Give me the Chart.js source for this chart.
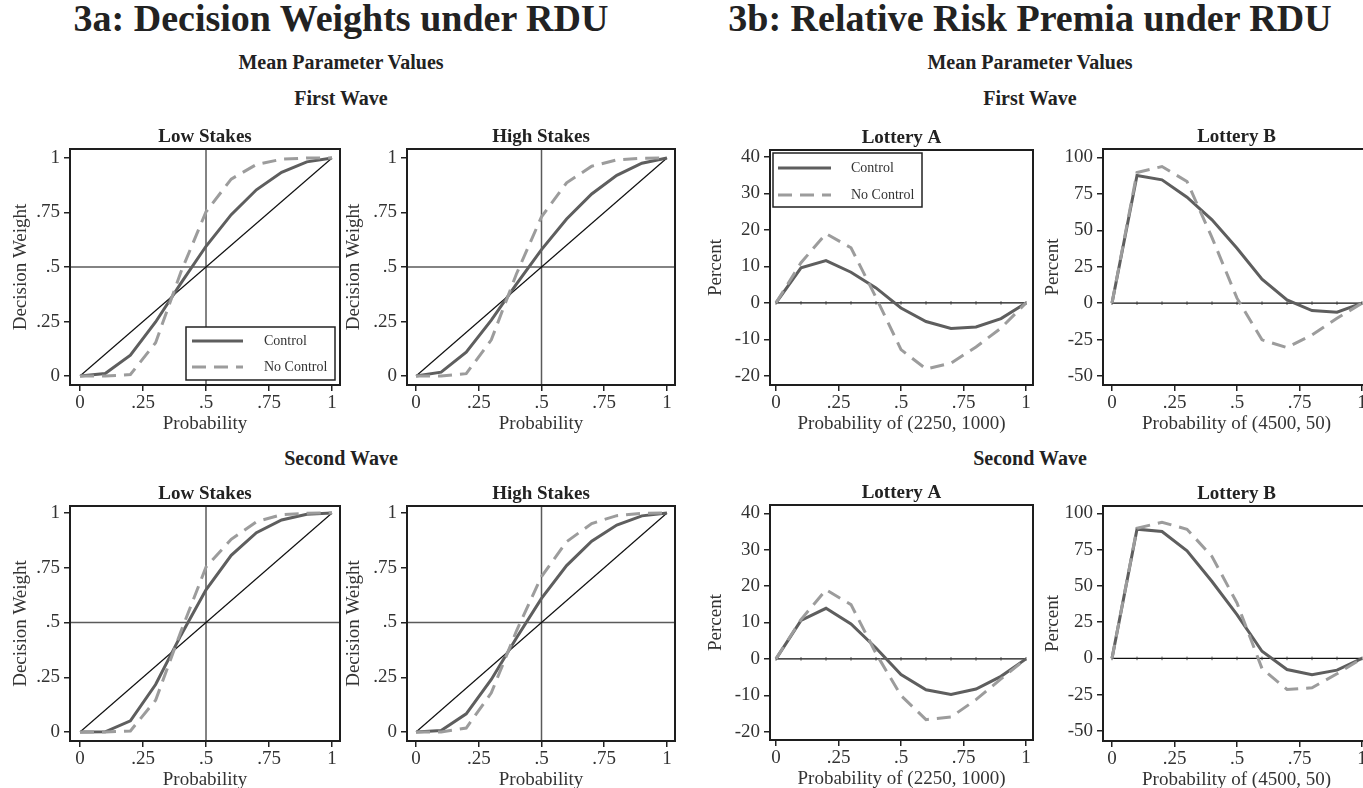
<!DOCTYPE html>
<html><head><meta charset="utf-8">
<script src="https://cdn.jsdelivr.net/npm/chart.js@4.4.1/dist/chart.umd.min.js"></script>
<style>
html,body{margin:0;padding:0;background:#fff;overflow:hidden;width:1363px;height:788px;position:relative}
.h{position:absolute;font-family:"Liberation Serif",serif;font-weight:bold;color:#222;white-space:nowrap;transform:translateX(-50%)}
canvas{position:absolute}
</style></head><body>
<div class="h" style="left:341px;top:-1px;font-size:38px;line-height:38px">3a: Decision Weights under RDU</div>
<div class="h" style="left:1030px;top:-1px;font-size:38px;line-height:38px">3b: Relative Risk Premia under RDU</div>
<div class="h" style="left:341px;top:52px;font-size:20px;line-height:20px">Mean Parameter Values</div>
<div class="h" style="left:1030px;top:52px;font-size:20px;line-height:20px">Mean Parameter Values</div>
<div class="h" style="left:341px;top:88px;font-size:20px;line-height:20px">First Wave</div>
<div class="h" style="left:1030px;top:88px;font-size:20px;line-height:20px">First Wave</div>
<div class="h" style="left:341px;top:448px;font-size:20px;line-height:20px">Second Wave</div>
<div class="h" style="left:1030px;top:448px;font-size:20px;line-height:20px">Second Wave</div>
<script>
// ---------- data ----------
const probability = [0, 0.1, 0.2, 0.3, 0.4, 0.5, 0.6, 0.7, 0.8, 0.9, 1];
const diagonalX = [0, 1];
const diagonalY = [0, 1];
const zeroLine = [0, 0, 0, 0, 0, 0, 0, 0, 0, 0, 0];
const probTicks = [0, 0.25, 0.5, 0.75, 1];
const weightTicks = [0, 0.25, 0.5, 0.75, 1];
const lotteryATicks = [-20, -10, 0, 10, 20, 30, 40];
const lotteryBTicks = [-50, -25, 0, 25, 50, 75, 100];
const weightRefLines = [0.5];
const seriesLabels = ['Control', 'No Control'];

// First wave, decision weights
const w1LowControl    = [0, 0.012, 0.096, 0.248, 0.425, 0.595, 0.740, 0.854, 0.934, 0.982, 1];
const w1LowNoControl  = [0, 0.000, 0.007, 0.153, 0.476, 0.753, 0.903, 0.970, 0.994, 1.000, 1];
const w1HighControl   = [0, 0.018, 0.110, 0.256, 0.421, 0.580, 0.720, 0.835, 0.920, 0.976, 1];
const w1HighNoControl = [0, 0.000, 0.011, 0.166, 0.468, 0.730, 0.886, 0.962, 0.991, 0.999, 1];
// Second wave, decision weights
const w2LowControl    = [0, 0.001, 0.051, 0.217, 0.441, 0.649, 0.807, 0.910, 0.968, 0.994, 1];
const w2LowNoControl  = [0, 0.000, 0.005, 0.145, 0.458, 0.753, 0.880, 0.960, 0.992, 0.999, 1];
const w2HighControl   = [0, 0.007, 0.083, 0.240, 0.429, 0.610, 0.760, 0.871, 0.945, 0.987, 1];
const w2HighNoControl = [0, 0.000, 0.018, 0.179, 0.461, 0.710, 0.869, 0.952, 0.988, 0.999, 1];
// First wave, relative risk premia (percent)
const w1LotteryAControl   = [0, 9.6, 11.6, 8.4, 4.1, -1.4, -5.1, -7.0, -6.6, -4.3, 0];
const w1LotteryANoControl = [0, 11.0, 19.0, 15.1, 1.5, -12.8, -18.1, -16.5, -12.1, -6.9, 0];
const w1LotteryBControl   = [0, 87.6, 84.6, 72.7, 57.2, 37.7, 16.4, 2.2, -5.1, -6.2, 0];
const w1LotteryBNoControl = [0, 89.7, 93.8, 83.5, 45.0, 3.4, -25.2, -30.5, -21.8, -10.4, 0];
// Second wave, relative risk premia (percent)
const w2LotteryAControl   = [0, 10.6, 13.9, 9.6, 3.0, -4.3, -8.5, -9.8, -8.3, -4.8, 0];
const w2LotteryANoControl = [0, 10.8, 19.0, 14.9, 1.5, -10.1, -16.7, -16.0, -11.2, -5.5, 0];
const w2LotteryBControl   = [0, 89.0, 87.4, 74.1, 53.0, 30.1, 4.9, -7.7, -11.3, -8.1, 0];
const w2LotteryBNoControl = [0, 89.7, 93.8, 89.0, 70.2, 38.2, -7.0, -21.4, -20.2, -10.6, 0];

// ---------- styling / layout ----------
const FONT = '"Liberation Serif", "DejaVu Serif", serif';
const CONTROL_COLOR = '#5e5e5e';
const NOCONTROL_COLOR = '#9c9c9c';
const YW = 66, XH = 50, TH = 26, PR = 6;

const pts = (xs, ys) => xs.map((x, i) => ({x, y: ys[i]}));
const fmtProb = v => v === 0 ? '0' : v === 1 ? '1' : String(v).replace(/^0\./, '.');
const fmtInt = v => String(v);

const decorPlugin = {
  id: 'decor',
  beforeDatasetsDraw(chart, args, o) {
    const {ctx, chartArea: a, scales: {x, y}} = chart;
    ctx.save();
    ctx.strokeStyle = '#5a5a5a';
    ctx.lineWidth = 1.5;
    (o.xLines || []).forEach(v => {
      const px = x.getPixelForValue(v);
      ctx.beginPath(); ctx.moveTo(px, a.top); ctx.lineTo(px, a.bottom); ctx.stroke();
    });
    (o.yLines || []).forEach(v => {
      const py = y.getPixelForValue(v);
      ctx.beginPath(); ctx.moveTo(a.left, py); ctx.lineTo(a.right, py); ctx.stroke();
    });
    ctx.restore();
  },
  afterDraw(chart, args, o) {
    const {ctx, chartArea: a} = chart;
    ctx.save();
    if (o.legend) {
      const [x0, y0, x1, y1, lx0, lx1, tx, r1, r2] = o.legend;
      ctx.fillStyle = '#fff';
      ctx.fillRect(x0, y0, x1 - x0, y1 - y0);
      ctx.strokeStyle = '#222'; ctx.lineWidth = 1.5;
      ctx.strokeRect(x0, y0, x1 - x0, y1 - y0);
      const ds = chart.data.datasets;
      [r1, r2].forEach((ry, i) => {
        const d = ds.find(s => s.label === seriesLabels[i]);
        ctx.strokeStyle = d.borderColor; ctx.lineWidth = d.borderWidth;
        ctx.setLineDash(d.borderDash || []);
        ctx.beginPath(); ctx.moveTo(lx0, ry); ctx.lineTo(lx1, ry); ctx.stroke();
        ctx.setLineDash([]);
        ctx.fillStyle = '#333'; ctx.font = '14px ' + FONT;
        ctx.textBaseline = 'middle'; ctx.textAlign = 'left';
        ctx.fillText(d.label, tx, ry);
      });
    }
    ctx.strokeStyle = '#1e1e1e'; ctx.lineWidth = 2;
    ctx.strokeRect(a.left, a.top, a.right - a.left, a.bottom - a.top);
    ctx.restore();
  }
};

const panels = [
  {box:[70,149,340,385], title:'Low Stakes', kind:'w', ctrl:w1LowControl, noc:w1LowNoControl, xr:[-0.0397,1.0317], yr:[-0.041,1.041], ytp:4.6,
   legend:[186,327,335,380,192,243,264,341,367]},
  {box:[407,149,675,385], title:'High Stakes', kind:'w', ctrl:w1HighControl, noc:w1HighNoControl, xr:[-0.036,1.032], yr:[-0.041,1.041], ytp:0.6},
  {box:[770,150,1033,385], title:'Lottery A', kind:'a', ctrl:w1LotteryAControl, noc:w1LotteryANoControl, xr:[-0.024,1.028], yr:[-22.5,41.9], ytp:0},
  {box:[1103,149,1370,385], title:'Lottery B', kind:'b', ctrl:w1LotteryBControl, noc:w1LotteryBNoControl, xr:[-0.036,1.032], yr:[-56.2,105.8], ytp:3.6},
  {box:[70,506,340,741], title:'Low Stakes', kind:'w', ctrl:w2LowControl, noc:w2LowNoControl, xr:[-0.0397,1.0317], yr:[-0.041,1.032], ytp:4.6},
  {box:[407,506,675,741], title:'High Stakes', kind:'w', ctrl:w2HighControl, noc:w2HighNoControl, xr:[-0.036,1.032], yr:[-0.041,1.032], ytp:0.6},
  {box:[770,505,1033,740], title:'Lottery A', kind:'a', ctrl:w2LotteryAControl, noc:w2LotteryANoControl, xr:[-0.024,1.028], yr:[-22.3,42.3], ytp:0},
  {box:[1103,506,1370,741], title:'Lottery B', kind:'b', ctrl:w2LotteryBControl, noc:w2LotteryBNoControl, xr:[-0.036,1.032], yr:[-56.9,105], ytp:3.6}
];
panels[2].legend = [773,153,922,207,778,831,851,168,195];

panels.forEach(p => {
  const [l, t, r, b] = p.box;
  const left = l - YW, top = t - TH;
  const width = r - l + YW + PR, height = b - t + TH + XH;
  const c = document.createElement('canvas');
  c.width = width; c.height = height;
  c.style.left = left + 'px'; c.style.top = top + 'px';
  c.style.width = width + 'px'; c.style.height = height + 'px';
  document.body.appendChild(c);

  const isW = p.kind === 'w';
  const yTicks = isW ? weightTicks : (p.kind === 'a' ? lotteryATicks : lotteryBTicks);
  const datasets = [
    {label: seriesLabels[0], data: pts(probability, p.ctrl), borderColor: CONTROL_COLOR, borderWidth: 3,
     pointRadius: 0, tension: 0, order: 2},
    {label: seriesLabels[1], data: pts(probability, p.noc), borderColor: NOCONTROL_COLOR, borderWidth: 3,
     borderDash: [14, 8], pointRadius: 0, tension: 0, order: 1}
  ];
  if (isW) {
    datasets.push({label: 'diagonal', data: pts(diagonalX, diagonalY), borderColor: '#111', borderWidth: 1.2,
      pointRadius: 0, order: 3});
  } else {
    datasets.push({label: 'zero', data: pts(probability, zeroLine), borderColor: '#111', borderWidth: 1.2,
      pointStyle: 'line', pointRotation: 90, pointRadius: 1.8, pointBorderWidth: 0.8, pointBorderColor: '#333', order: 3});
  }
  let legend = null;
  if (p.legend) {
    const g = p.legend;
    legend = [g[0]-left, g[1]-top, g[2]-left, g[3]-top, g[4]-left, g[5]-left, g[6]-left, g[7]-top, g[8]-top];
  }
  new Chart(c, {
    type: 'line',
    data: {datasets},
    options: {
      responsive: false, animation: false, devicePixelRatio: 1,
      layout: {padding: {left: 0, right: PR, top: 0, bottom: 0}},
      plugins: {
        legend: {display: false}, tooltip: {enabled: false},
        title: {display: true, text: p.title, fullSize: false, color: '#222',
          font: {family: FONT, size: 19, weight: 'bold', lineHeight: 1.0}, padding: {top: 4.5, bottom: 2.5}},
        decor: {xLines: isW ? weightRefLines : [], yLines: isW ? weightRefLines : [], legend}
      },
      scales: {
        x: {type: 'linear', min: p.xr[0], max: p.xr[1],
          afterBuildTicks: s => { s.ticks = probTicks.map(v => ({value: v})); },
          afterFit: s => { s.height = XH; },
          ticks: {font: {family: FONT, size: 19, lineHeight: 1.2}, color: '#333', padding: 1, maxRotation: 0, autoSkip: false, callback: fmtProb},
          grid: {display: true, drawOnChartArea: false, drawTicks: true, tickLength: 6, color: '#222', lineWidth: 1.5},
          border: {display: false},
          title: {display: true, text: isW ? 'Probability' : (p.kind === 'a' ? 'Probability of (2250, 1000)' : 'Probability of (4500, 50)'),
            color: '#333', font: {family: FONT, size: 19, lineHeight: 1.2}, padding: {top: 0, bottom: 0}}
        },
        y: {type: 'linear', min: p.yr[0], max: p.yr[1],
          afterBuildTicks: s => { s.ticks = yTicks.map(v => ({value: v})); },
          afterFit: s => { s.width = YW; },
          ticks: {font: {family: FONT, size: 19, lineHeight: 1.2}, color: '#333', padding: 4, autoSkip: false, callback: isW ? fmtProb : fmtInt},
          grid: {display: true, drawOnChartArea: false, drawTicks: true, tickLength: 6, color: '#222', lineWidth: 1.5},
          border: {display: false},
          title: {display: true, text: isW ? 'Decision Weight' : 'Percent', color: '#333',
            font: {family: FONT, size: 19, lineHeight: 1.2}, padding: {top: p.ytp + 1, bottom: 0}}
        }
      }
    },
    plugins: [decorPlugin]
  });
});
</script>
</body></html>
